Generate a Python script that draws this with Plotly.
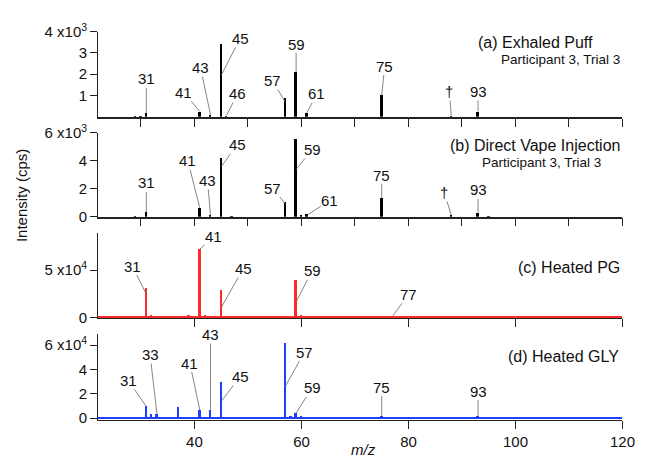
import plotly.graph_objects as go

# ---------------- data ----------------
mz_a = [29, 30, 31, 41, 43, 45, 46, 57, 59, 61, 75, 88, 93]
int_a = [60, 40, 180, 250, 100, 3450, 60, 900, 2100, 200, 1020, 50, 250]

mz_b = [29, 31, 41, 43, 45, 47, 57, 59, 60, 61, 75, 88, 93, 95]
int_b = [50, 340, 640, 100, 4180, 50, 1050, 5600, 150, 180, 1320, 100, 300, 40]

mz_c = [31, 32, 37, 39, 41, 42, 45, 59, 60, 77]
int_c = [30400, 1200, 800, 2000, 72000, 2000, 28700, 39000, 2500, 1000]

mz_d = [31, 32, 33, 37, 41, 43, 45, 46, 57, 58, 59, 60, 75, 93]
int_d = [9500, 3400, 3500, 9200, 6600, 6800, 29700, 600, 62000, 1500, 4200, 800, 1600, 1500]

labels_a = ["31", "41", "43", "45", "46", "57", "59", "61", "75", "\u2020", "93"]
labels_b = ["31", "41", "43", "45", "57", "59", "61", "75", "\u2020", "93"]
labels_c = ["31", "41", "45", "59", "77"]
labels_d = ["31", "33", "41", "43", "45", "57", "59", "75", "93"]

ytick_vals_a = [1000, 2000, 3000, 4000]
ytick_text_a = ["1", "2", "3", "4 x10<sup>3</sup>"]
ytick_vals_b = [0, 2000, 4000, 6000]
ytick_text_b = ["0", "2", "4", "6 x10<sup>3</sup>"]
ytick_vals_c = [0, 50000]
ytick_text_c = ["0", "5 x10<sup>4</sup>"]
ytick_vals_d = [0, 20000, 40000, 60000]
ytick_text_d = ["0", "2", "4", "6 x10<sup>4</sup>"]

titles = ["(a) Exhaled Puff", "(b) Direct Vape Injection", "(c) Heated PG", "(d) Heated GLY"]
subtitle = "Participant 3, Trial 3"

# ---------------- layout helpers ----------------
W, H = 651, 458
OFF = 8  # page body margin
FONT = "Liberation Sans, Arial, Helvetica, sans-serif"
BLACK, RED, BLUE = "#000000", "#ff2a2a", "#1f3fff"


def px(x):
    return (x - OFF) / W


def py(y):
    return 1 - (y - OFF) / H


fig = go.Figure()
panels = [
    (mz_a, int_a, BLACK, "x", "y"),
    (mz_b, int_b, BLACK, "x2", "y2"),
    (mz_c, int_c, RED, "x3", "y3"),
    (mz_d, int_d, BLUE, "x4", "y4"),
]
for mz, iv, col, xa, ya in panels:
    fig.add_trace(go.Bar(x=mz, y=iv, width=0.36, marker=dict(color=col, line=dict(width=0)),
                         xaxis=xa, yaxis=ya, showlegend=False, hoverinfo="x+y"))

xdom = [px(100), px(635)]
ydoms = [
    [py(110), py(21.2)],
    [py(214.3), py(126.7)],
    [py(319.8), py(231.7)],
    [py(426.7), py(336.7)],
]
yranges = [[0, 4000], [0, 6000], [-500, 88750], [-1900, 69200]]
ytv = [ytick_vals_a, ytick_vals_b, ytick_vals_c, ytick_vals_d]
ytt = [ytick_text_a, ytick_text_b, ytick_text_c, ytick_text_d]
xdt = [10, 10, 20, 20]
zl = [(False, BLACK), (False, BLACK), (True, RED), (True, BLUE)]

axes = {}
for i in range(4):
    sx = "" if i == 0 else str(i + 1)
    axes["xaxis" + sx] = dict(
        domain=xdom, range=[22, 120], anchor="y" + sx, showline=True, linecolor="#222",
        linewidth=1.5 if i < 2 else 1, ticks="outside", ticklen=8, tickcolor="#222", tickwidth=1,
        tick0=0, dtick=xdt[i], showticklabels=(i == 3), showgrid=False, zeroline=False,
        tickfont=dict(size=15, color="#111", family=FONT),
    )
    axes["yaxis" + sx] = dict(
        domain=ydoms[i], range=yranges[i], anchor="x" + sx, showline=True, linecolor="#222",
        linewidth=1, ticks="outside", ticklen=7, tickcolor="#222", tickwidth=1,
        tickvals=ytv[i], ticktext=ytt[i], showgrid=False,
        zeroline=zl[i][0], zerolinecolor=zl[i][1], zerolinewidth=1.5,
        tickfont=dict(size=15, color="#111", family=FONT),
    )
fig.update_layout(**axes)

# ---------------- peak labels with leader lines ----------------
place_a = [(31, 180, 0, -34), (41, 250, -16, -19), (43, 100, -10, -47), (45, 1950, 19, -37),
           (46, 60, 11, -22), (57, 675, -13, -22), (59, 2100, 0, -28), (61, 180, 10, -19),
           (75, 1020, 3, -29), (88, 50, -2, -24), (93, 250, 0, -20)]
place_b = [(31, 340, 0, -29), (41, 640, -12, -47), (43, 100, -3, -35), (45, 3580, 16, -22),
           (57, 910, -13, -16), (59, 3380, 16, -20), (61, 100, 23, -15), (75, 1320, 0, -23),
           (88, 100, -7, -23), (93, 300, 0, -23)]
place_c = [(31, 24600, -14, -28), (41, 72000, 14, -13), (45, 10400, 22, -39), (59, 16500, 16, -31),
           (77, 1000, 16, -22)]
place_d = [(31, 9500, -18, -26), (33, 3000, -7, -60), (41, 6600, -10, -47), (43, 6800, 0, -75),
           (45, 13700, 19, -25), (57, 26300, 19, -34), (59, 4200, 16, -25), (75, 1600, 0, -29),
           (93, 1500, 0, -25)]

annots = []
for labs, places, xr, yr in [(labels_a, place_a, "x", "y"), (labels_b, place_b, "x2", "y2"),
                             (labels_c, place_c, "x3", "y3"), (labels_d, place_d, "x4", "y4")]:
    for t, (xv, yv, ax, ay) in zip(labs, places):
        annots.append(dict(text=t, x=xv, y=yv, xref=xr, yref=yr, ax=ax, ay=ay,
                           showarrow=True, arrowhead=0, arrowwidth=0.8, arrowcolor="#666",
                           font=dict(size=15, color="#111", family=FONT), borderpad=0))

# panel titles
title_pos = [(607, 33), (635, 140), (635, 267), (633, 360)]
for t, (xx, yy) in zip(titles, title_pos):
    annots.append(dict(text=t, x=px(xx), y=py(yy), xref="paper", yref="paper", xanchor="right",
                       yanchor="middle", showarrow=False, font=dict(size=16, color="#111", family=FONT)))
for xx, yy in [(635, 50), (615, 158)]:
    annots.append(dict(text=subtitle, x=px(xx), y=py(yy), xref="paper", yref="paper", xanchor="right",
                       yanchor="middle", showarrow=False, font=dict(size=13.5, color="#111", family=FONT)))

# axis titles
annots.append(dict(text="Intensity (cps)", x=px(22), y=py(192), xref="paper", yref="paper",
                   textangle=-90, showarrow=False, xanchor="center", yanchor="middle",
                   font=dict(size=15, color="#111", family=FONT)))
annots.append(dict(text="<i>m/z</i>", x=px(371), y=py(446), xref="paper", yref="paper",
                   showarrow=False, xanchor="center", yanchor="top",
                   font=dict(size=15, color="#111", family=FONT)))

fig.update_layout(
    width=W, height=H, margin=dict(l=0, r=0, t=0, b=0),
    paper_bgcolor="white", plot_bgcolor="white", annotations=annots,
    font=dict(family=FONT), bargap=0, barmode="overlay",
)

fig.write_html("out.html", config={"displayModeBar": False})
